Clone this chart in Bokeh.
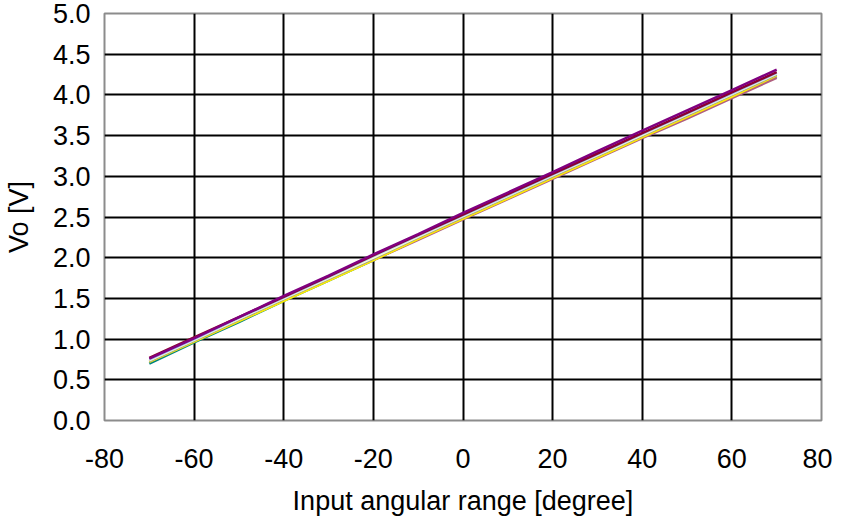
from bokeh.plotting import figure
from bokeh.embed import file_html
from bokeh.resources import INLINE
from bokeh.models import FixedTicker, Range1d

angles = [-70, -60, -50, -40, -30, -20, -10, 0, 10, 20, 30, 40, 50, 60, 70]

vo_purple   = [0.76, 1.01, 1.27, 1.53, 1.78, 2.04, 2.29, 2.55, 2.80, 3.05, 3.31, 3.56, 3.81, 4.06, 4.31]
vo_darkred  = [0.77, 1.02, 1.27, 1.52, 1.77, 2.03, 2.28, 2.53, 2.78, 3.03, 3.28, 3.53, 3.78, 4.03, 4.28]
vo_skyblue  = [0.75, 1.00, 1.26, 1.51, 1.76, 2.02, 2.27, 2.52, 2.77, 3.02, 3.27, 3.52, 3.77, 4.02, 4.27]
vo_cream    = [0.74, 0.99, 1.25, 1.50, 1.75, 2.00, 2.26, 2.51, 2.76, 3.01, 3.26, 3.51, 3.76, 4.01, 4.26]
vo_gray     = [0.73, 0.98, 1.24, 1.49, 1.74, 1.99, 2.25, 2.50, 2.75, 3.00, 3.25, 3.50, 3.75, 4.00, 4.25]
vo_yellow   = [0.72, 0.97, 1.22, 1.47, 1.72, 1.97, 2.23, 2.48, 2.73, 2.98, 3.23, 3.48, 3.73, 3.98, 4.24]
vo_teal     = [0.70, 0.96, 1.21, 1.47, 1.72, 1.97, 2.23, 2.48, 2.73, 2.98, 3.23, 3.48, 3.73, 3.98, 4.23]
vo_mauve    = [0.73, 0.98, 1.23, 1.48, 1.73, 1.97, 2.22, 2.47, 2.72, 2.97, 3.22, 3.47, 3.71, 3.96, 4.21]

series = [
    (vo_teal, "#008080"),
    (vo_mauve, "#B0607F"),
    (vo_yellow, "#FFEE00"),
    (vo_gray, "#9A9A9A"),
    (vo_cream, "#FFFFCC"),
    (vo_skyblue, "#99CCFF"),
    (vo_darkred, "#8B0030"),
    (vo_purple, "#800080"),
]

x_ticks = [-80, -60, -40, -20, 0, 20, 40, 60, 80]
y_ticks = [0.0, 0.5, 1.0, 1.5, 2.0, 2.5, 3.0, 3.5, 4.0, 4.5, 5.0]

FONT = "Liberation Sans"

p = figure(frame_width=717, frame_height=407, output_backend="svg", toolbar_location=None,
           x_range=Range1d(-80, 80), y_range=Range1d(0, 5),
           min_border_left=98, min_border_right=11, min_border_top=13, min_border_bottom=95)

for vals, col in series:
    p.line(angles, vals, line_color=col, line_width=2.5)

p.xaxis.ticker = FixedTicker(ticks=x_ticks)
p.yaxis.ticker = FixedTicker(ticks=y_ticks)
p.xaxis.major_label_overrides = {v: str(v) for v in x_ticks}
p.yaxis.major_label_overrides = {v: f"{v:.1f}" for v in y_ticks}

for ax in (p.xaxis[0], p.yaxis[0]):
    ax.axis_line_color = None
    ax.major_tick_line_color = None
    ax.minor_tick_line_color = None
    ax.major_tick_out = 0
    ax.major_tick_in = 0
    ax.major_label_text_font = FONT
    ax.major_label_text_font_size = "27px"
    ax.major_label_text_color = "black"
    ax.axis_label_text_font = FONT
    ax.axis_label_text_font_size = "27px"
    ax.axis_label_text_font_style = "normal"
    ax.axis_label_text_color = "black"

p.xaxis.axis_label = "Input angular range [degree]"
p.yaxis.axis_label = "Vo [V]"
p.xaxis.major_label_standoff = 28
p.yaxis.major_label_standoff = 14
p.xaxis.axis_label_standoff = 15
p.yaxis.axis_label_standoff = 16

p.xgrid.grid_line_color = "black"
p.ygrid.grid_line_color = "black"
p.xgrid.grid_line_width = 2
p.ygrid.grid_line_width = 2
p.xgrid.grid_line_alpha = 1
p.ygrid.grid_line_alpha = 1

p.outline_line_color = "#8C8C8C"
p.outline_line_width = 2
p.background_fill_color = "white"
p.border_fill_color = "white"

open("out.html", "w").write(file_html(p, INLINE))
